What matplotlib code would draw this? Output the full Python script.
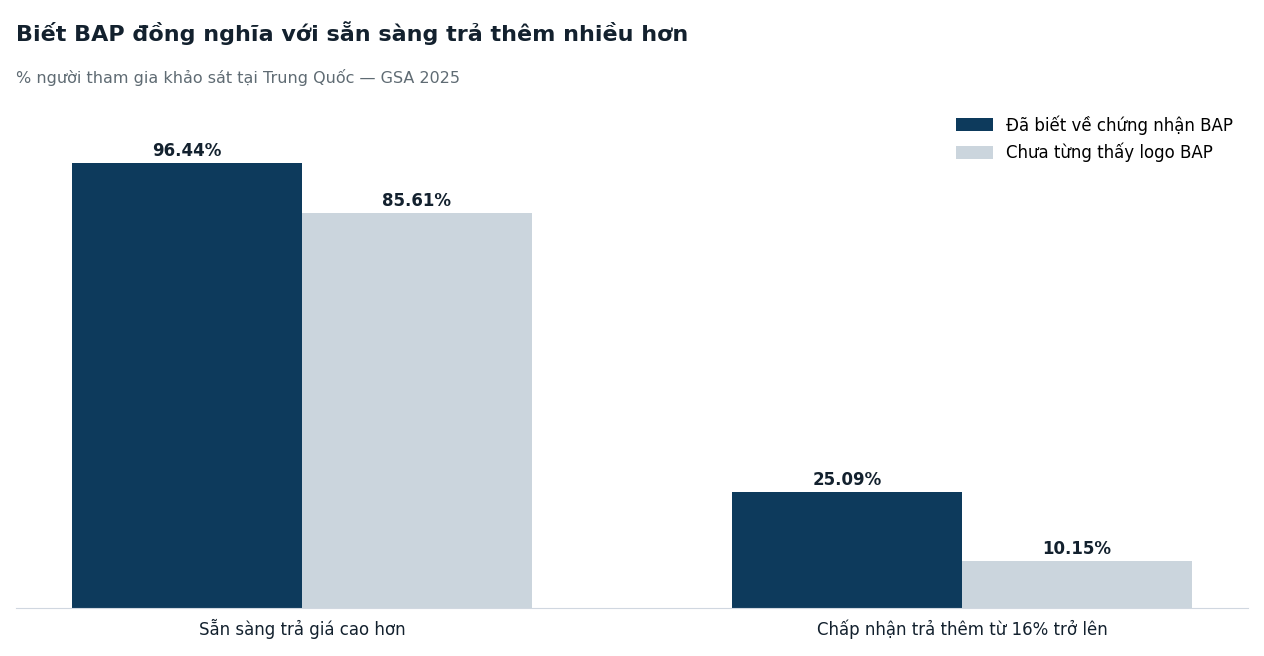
import matplotlib
matplotlib.use("Agg")
import matplotlib.pyplot as plt
import numpy as np

categories = ["Sẵn sàng trả giá cao hơn", "Chấp nhận trả thêm từ 16% trở lên"]
series_names = ["Đã biết về chứng nhận BAP", "Chưa từng thấy logo BAP"]
aware = [96.44, 25.09]
unaware = [85.61, 10.15]
colors = ["#0d3a5c", "#cbd5dd"]

plt.rcParams['font.family'] = ['DejaVu Sans']
fig = plt.figure(figsize=(12.64, 6.56), dpi=100)
ax = fig.add_axes([16/1264, 48/656, 1232/1264, 498/656])
x = np.arange(len(categories))
w = 0.348
for vals, off, c, name in [(aware, -w/2, colors[0], series_names[0]), (unaware, w/2, colors[1], series_names[1])]:
    bars = ax.bar(x + off, vals, w, color=c, label=name)
    for b, v in zip(bars, vals):
        ax.text(b.get_x() + b.get_width()/2, v + 0.8, f"{v:.2f}%", ha="center", va="bottom",
                fontsize=12, fontweight="bold", color="#13212e")
ax.set_xlim(-0.433, 1.433)
ax.set_ylim(0, 108)
ax.set_yticks([])
ax.set_xticks(x)
ax.set_xticklabels(categories, fontsize=12, color="#13212e")
ax.tick_params(axis="x", length=0, pad=8)
for s in ["top", "left", "right"]:
    ax.spines[s].set_visible(False)
ax.spines["bottom"].set_color("#d0d7e0")
ax.legend(loc="upper right", bbox_to_anchor=(1.0, 1.02), frameon=False, fontsize=12,
          handlelength=2.2, handleheight=0.8)
fig.text(16/1264, 1 - 33/656, "Biết BAP đồng nghĩa với sẵn sàng trả thêm nhiều hơn", fontsize=16,
         fontweight="bold", color="#13212e", va="center")
fig.text(16/1264, 1 - 77/656, "% người tham gia khảo sát tại Trung Quốc — GSA 2025", fontsize=11.5,
         color="#5f6b73", va="center")
fig.savefig("out.png", dpi=100)
